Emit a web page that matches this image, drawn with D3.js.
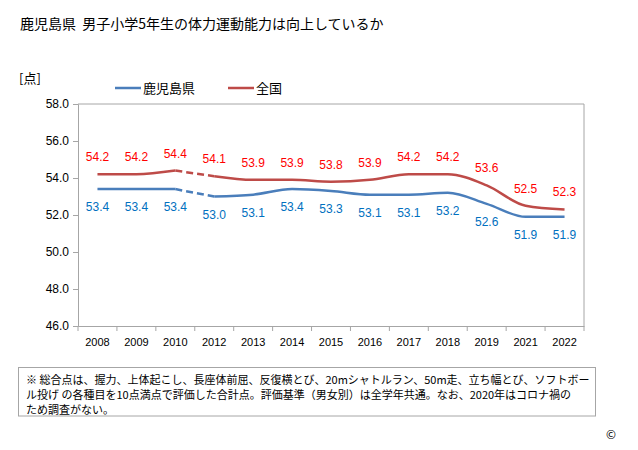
<!DOCTYPE html>
<html lang="ja">
<head>
<meta charset="UTF-8">
<title>鹿児島県 男子小学5年生の体力運動能力</title>
<script src="https://d3js.org/d3.v7.min.js"></script>
<style>
  body { margin: 0; background: #fff; }
  svg { display: block; font-family: "Noto Sans CJK JP", sans-serif; }
  .tick text { font-family: "Liberation Sans", Arial, sans-serif; fill: #000; }
</style>
</head>
<body>
<div id="chart"></div>
<script>
// データ
const years = ["2008","2009","2010","2012","2013","2014","2015","2016","2017","2018","2019","2021","2022"];
const kagoshima = [53.4,53.4,53.4,53.0,53.1,53.4,53.3,53.1,53.1,53.2,52.6,51.9,51.9];
const zenkoku   = [54.2,54.2,54.4,54.1,53.9,53.9,53.8,53.9,54.2,54.2,53.6,52.5,52.3];
const yTicks = [46,48,50,52,54,56,58];
const noteLines = [
  "※ 総合点は、握力、上体起こし、長座体前屈、反復横とび、20mシャトルラン、50m走、立ち幅とび、ソフトボー",
  "ル投げ の各種目を10点満点で評価した合計点。評価基準（男女別）は全学年共通。なお、2020年はコロナ禍の",
  "ため調査がない。"
];

const W = 638, H = 450;
const m = { left: 78, right: 584, top: 104, bottom: 326 };

const svg = d3.select("#chart").append("svg").attr("width", W).attr("height", H);

const x = d3.scaleBand().domain(years).range([m.left, m.right]);
const y = d3.scaleLinear().domain([46, 58]).range([m.bottom, m.top]);
const cx = d => x(d) + x.bandwidth() / 2;

// タイトル
svg.append("text").attr("x", 20).attr("y", 29).attr("font-size", 14).style("white-space", "pre")
  .text("鹿児島県  男子小学5年生の体力運動能力は向上しているか");
svg.append("text").attr("x", 19).attr("y", 83).attr("font-size", 13).text("[点]");

// 凡例
const legend = [{ name: "鹿児島県", color: "#4a7ebb", x: 115 }, { name: "全国", color: "#be4b48", x: 228 }];
legend.forEach(l => {
  svg.append("line").attr("x1", l.x).attr("x2", l.x + 26).attr("y1", 88).attr("y2", 88)
    .attr("stroke", l.color).attr("stroke-width", 2.5);
  svg.append("text").attr("x", l.x + 28).attr("y", 93).attr("font-size", 13).text(l.name);
});

// 枠
svg.append("path")
  .attr("d", `M${m.left},${m.top}H${m.right}V${m.bottom}`)
  .attr("fill", "none").attr("stroke", "#a6a6a6");

// 軸
const yAxis = svg.append("g").attr("transform", `translate(${m.left},0)`)
  .call(d3.axisLeft(y).tickValues(yTicks).tickFormat(d3.format(".1f")).tickSize(5).tickPadding(4));
yAxis.selectAll("text").attr("font-size", 12);

const xAxis = svg.append("g").attr("transform", `translate(0,${m.bottom})`)
  .call(d3.axisBottom(x).tickSize(0).tickPadding(12));
xAxis.selectAll("text").attr("font-size", 11).attr("fill", "#222");
// 目盛り線（区切り）
xAxis.selectAll(".sep").data(d3.range(years.length + 1)).enter().append("line")
  .attr("x1", i => m.left + i * x.step()).attr("x2", i => m.left + i * x.step())
  .attr("y1", 0).attr("y2", 5).attr("stroke", "#a6a6a6");
svg.selectAll(".domain, .tick line").attr("stroke", "#a6a6a6");

// 折れ線
const series = [
  { vals: zenkoku, color: "#be4b48", label: "#ff0000", dy: -13 },
  { vals: kagoshima, color: "#4a7ebb", label: "#0070c0", dy: 22 }
];
const line = d3.line().x(d => cx(d.year)).y(d => y(d.v)).curve(d3.curveMonotoneX);

series.forEach(s => {
  const pts = years.map((yr, i) => ({ year: yr, v: s.vals[i] }));
  const segA = pts.slice(0, 3), segB = pts.slice(2, 4), segC = pts.slice(3);
  svg.append("path").attr("d", line(segA)).attr("fill", "none").attr("stroke", s.color).attr("stroke-width", 2.5);
  svg.append("path").attr("d", line(segB)).attr("fill", "none").attr("stroke", s.color).attr("stroke-width", 2.5)
    .attr("stroke-dasharray", "7,4");
  svg.append("path").attr("d", line(segC)).attr("fill", "none").attr("stroke", s.color).attr("stroke-width", 2.5);
  svg.selectAll(null).data(pts).enter().append("text")
    .attr("x", d => cx(d.year)).attr("y", d => y(d.v) + s.dy)
    .attr("text-anchor", "middle").attr("font-size", 12)
    .attr("font-family", "'Liberation Sans', Arial, sans-serif")
    .attr("fill", s.label).text(d => d.v.toFixed(1));
});

// 注記
svg.append("rect").attr("x", 18.5).attr("y", 367.5).attr("width", 577).attr("height", 48.5)
  .attr("fill", "none").attr("stroke", "#a6a6a6");
noteLines.forEach((t, i) => {
  svg.append("text").attr("x", 26).attr("y", 384 + i * 15).attr("font-size", 11).text(t);
});

svg.append("text").attr("x", 606).attr("y", 439).attr("font-size", 12).text("©");
</script>
</body>
</html>
